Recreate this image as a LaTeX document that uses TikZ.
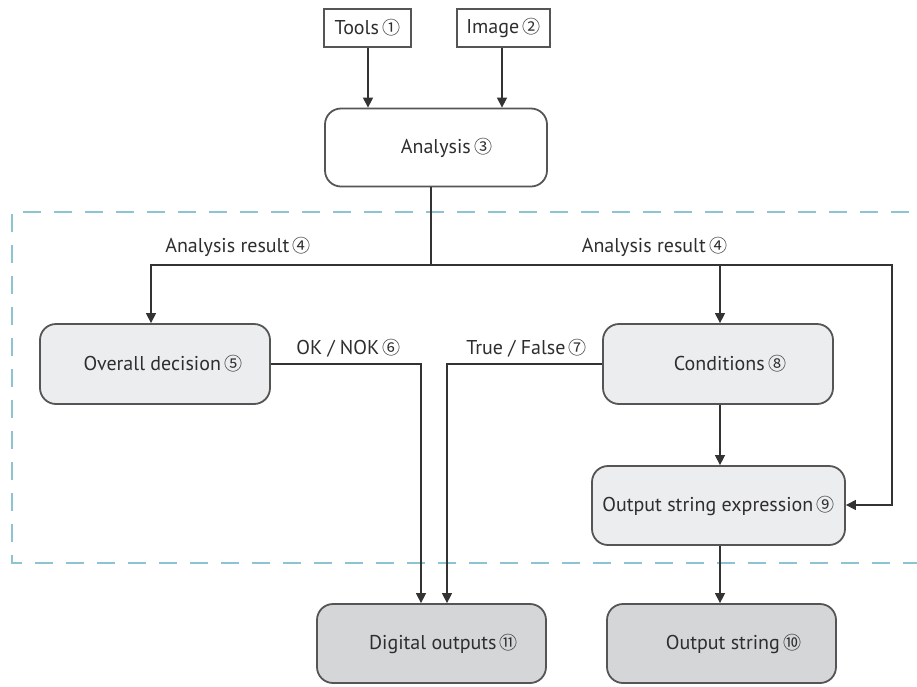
\documentclass[tikz,border=0pt]{standalone}
\usepackage{fontspec}
\setmainfont{PT Sans}
\newfontfamily\symfont{Noto Sans CJK SC}
\newcommand{\cnum}[1]{{\symfont\fontsize{18}{18}\selectfont #1}}
\usetikzlibrary{arrows.meta}
\definecolor{boxline}{HTML}{555555}
\definecolor{lightfill}{HTML}{ECEDEF}
\definecolor{darkfill}{HTML}{D5D6D8}
\definecolor{dashblue}{HTML}{8CC4D4}
\definecolor{txt}{HTML}{2E2E2E}
\begin{document}
\begin{tikzpicture}[x=1pt,y=-1pt,
  font=\fontsize{20}{22}\selectfont\color{txt},
  plainbox/.style={draw=boxline,line width=1.5pt,inner sep=0pt},
  roundbox/.style={draw=boxline,line width=1.8pt,rounded corners=16pt,inner sep=0pt},
  lightbox/.style={roundbox,fill=lightfill},
  darkbox/.style={roundbox,fill=darkfill},
  conn/.style={draw=black!80,line width=1.4pt},
  arr/.style={conn,-{Triangle[length=10pt,width=10pt]}},
  lbl/.style={inner sep=0pt,anchor=center}
]
\useasboundingbox (0,0) rectangle (917,686);
% dashed region
\draw[dashblue,line width=1.6pt,dash pattern=on 18pt off 13pt] (940,212) -- (12,212) -- (12,563) -- (940,563);

% nodes
\node[plainbox,minimum width=87pt,minimum height=38pt] (tools) at (367.5,28) {Tools\,\cnum{①}};
\node[plainbox,minimum width=93pt,minimum height=38pt] (image) at (503.5,28) {Image\,\cnum{②}};
\node[roundbox,minimum width=222pt,minimum height=78pt] (analysis) at (436,147.5) {\hspace*{21pt}Analysis\,\cnum{③}};
\node[lightbox,minimum width=230pt,minimum height=80pt] (overall) at (155,364) {\hspace*{16pt}Overall decision\,\cnum{⑤}};
\node[lightbox,minimum width=230pt,minimum height=80pt] (cond) at (718,364) {\hspace*{24pt}Conditions\,\cnum{⑧}};
\node[lightbox,minimum width=253pt,minimum height=79pt] (ose) at (718.5,505.5) {Output string expression\,\cnum{⑨}};
\node[darkbox,minimum width=229pt,minimum height=79pt] (digital) at (431.5,643.5) {\hspace*{24pt}Digital outputs\,\cnum{⑪}};
\node[darkbox,minimum width=229pt,minimum height=79pt] (outstr) at (721.5,643.5) {\hspace*{24pt}Output string\,\cnum{⑩}};

% coordinates
\coordinate (junc) at (431,265);
\coordinate (jl) at (151,265);
\coordinate (jr) at (892,265);
\coordinate (jrr) at (892,505);
\coordinate (jc) at (720,265);
\coordinate (okc) at (421,364);
\coordinate (tfc) at (447,364);

% connectors
\draw[arr] (tools.south -| 368,0) -- (analysis.north -| 368,0);
\draw[arr] (image.south -| 502,0) -- (analysis.north -| 502,0);
\draw[conn] (analysis.south -| junc) -- (junc);
\draw[arr] (junc) -- (jl) -- (overall.north -| jl);
\draw[arr] (jc) -- (cond.north -| jc);
\draw[arr] (junc) -- (jr) -- (jrr) -- (ose.east |- jrr);
\draw[arr] (cond.south -| jc) -- (ose.north -| jc);
\draw[arr] (ose.south -| jc) -- (outstr.north -| jc);
\draw[arr] (overall.east) -- (okc) -- (digital.north -| okc);
\draw[arr] (cond.west) -- (tfc) -- (digital.north -| tfc);

% labels
\node[lbl] (lar) at (238,247) {Analysis result\,\cnum{④}};
\node[lbl] (rar) at (654.5,247) {Analysis result\,\cnum{④}};
\node[lbl] (ok) at (348.5,348) {OK / NOK\,\cnum{⑥}};
\node[lbl] (tf) at (526.5,348) {True / False\,\cnum{⑦}};
\end{tikzpicture}
\end{document}
